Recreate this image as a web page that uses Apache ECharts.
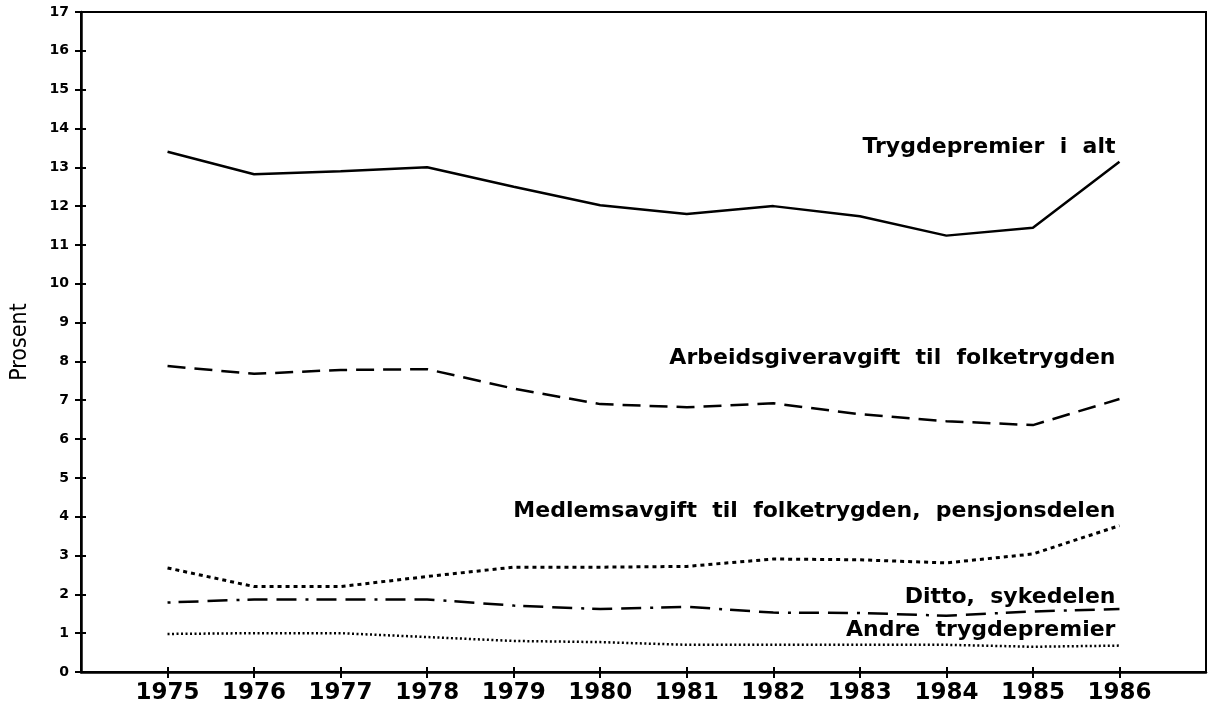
<!DOCTYPE html>
<html>
<head>
<meta charset="utf-8">
<script src="https://cdn.jsdelivr.net/npm/echarts@6/dist/echarts.min.js"></script>
<style>
html,body{margin:0;padding:0;background:#fff;}
#chart{width:1209px;height:710px;}
</style>
</head>
<body>
<div id="chart"></div>
<script>
var years = [1975, 1976, 1977, 1978, 1979, 1980, 1981, 1982, 1983, 1984, 1985, 1986];
var yTicks = [0,1,2,3,4,5,6,7,8,9,10,11,12,13,14,15,16,17];
var trygdepremierIAlt = [13.4, 12.82, 12.9, 13.0, 12.5, 12.02, 11.8, 12.0, 11.74, 11.24, 11.44, 13.14];
var arbeidsgiveravgift = [7.88, 7.68, 7.78, 7.8, 7.3, 6.9, 6.82, 6.92, 6.64, 6.46, 6.36, 7.03];
var medlemsavgiftPensjon = [2.68, 2.2, 2.2, 2.46, 2.7, 2.7, 2.72, 2.91, 2.89, 2.81, 3.04, 3.77];
var dittoSykedelen = [1.79, 1.87, 1.87, 1.87, 1.71, 1.62, 1.68, 1.53, 1.52, 1.45, 1.56, 1.62];
var andreTrygdepremier = [0.98, 1.0, 1.0, 0.9, 0.8, 0.77, 0.7, 0.7, 0.7, 0.7, 0.65, 0.68];
var seriesNames = [
  'Trygdepremier  i  alt',
  'Arbeidsgiveravgift  til  folketrygden',
  'Medlemsavgift  til  folketrygden,  pensjonsdelen',
  'Ditto,  sykedelen',
  'Andre  trygdepremier'
];

function pairs(vals){ return years.map(function(y,i){ return [y, vals[i]]; }); }

var labelFont = {fontFamily:'DejaVu Sans', fontWeight:'bold', fontSize:22, color:'#000'};
function endLab(dy){
  return Object.assign({show:true, formatter:'{a}', align:'right', verticalAlign:'middle', distance:0, offset:[-4, dy]}, labelFont);
}

var chart = echarts.init(document.getElementById('chart'), null, {renderer:'canvas'});
var xBase = {
  type:'value', min:1974, max:1987, gridIndex:0, position:'bottom',
  splitLine:{show:false}
};
var yBase = {
  type:'value', min:0, max:17, interval:1, position:'left', splitLine:{show:false}
};
chart.setOption({
  animation:false,
  backgroundColor:'#fff',
  grid:{left:81, right:3, top:12, bottom:38, show:true, borderColor:'#000', borderWidth:2,
        containLabel:false, outerBoundsMode:'none'},
  xAxis:[
    Object.assign({}, xBase, {
      axisLine:{show:true, lineStyle:{color:'#000', width:2.5}},
      axisTick:{show:true, length:6, inside:false, lineStyle:{color:'#000', width:2}, customValues:years},
      axisLabel:{show:true, customValues:years, margin:10, color:'#000', fontFamily:'DejaVu Sans', fontWeight:'bold', fontSize:23, formatter:function(v){return String(v);}}
    }),
    Object.assign({}, xBase, {
      axisLine:{show:false},
      axisTick:{show:true, length:5, inside:true, lineStyle:{color:'#000', width:2}, customValues:years},
      axisLabel:{show:false}
    })
  ],
  yAxis:[
    Object.assign({}, yBase, {
      name:'Prosent', nameLocation:'middle', nameGap:49, nameRotate:90,
      nameTextStyle:{fontFamily:"'DejaVu Sans Condensed', 'Liberation Sans', sans-serif", fontSize:23, color:'#000'},
      axisLine:{show:true, lineStyle:{color:'#000', width:2.5}},
      axisTick:{show:true, length:6, inside:false, lineStyle:{color:'#000', width:2}},
      axisLabel:{show:true, margin:12, color:'#000', fontFamily:'DejaVu Sans', fontWeight:'bold', fontSize:14}
    }),
    Object.assign({}, yBase, {
      axisLine:{show:false},
      axisTick:{show:true, length:5, inside:true, lineStyle:{color:'#000', width:2}},
      axisLabel:{show:false}
    })
  ],
  series:[
    {name:seriesNames[0], type:'line', data:pairs(trygdepremierIAlt), symbol:'none',
     lineStyle:{color:'#000', width:2.5, type:'solid'}, endLabel:endLab(-15)},
    {name:seriesNames[1], type:'line', data:pairs(arbeidsgiveravgift), symbol:'none',
     lineStyle:{color:'#000', width:2.5, type:[18,9]}, endLabel:endLab(-41)},
    {name:seriesNames[2], type:'line', data:pairs(medlemsavgiftPensjon), symbol:'none',
     lineStyle:{color:'#000', width:3, type:[4,4]}, endLabel:endLab(-14)},
    {name:seriesNames[3], type:'line', data:pairs(dittoSykedelen), symbol:'none',
     lineStyle:{color:'#000', width:2.5, type:[3,8,20,9,20,9]}, endLabel:endLab(-12)},
    {name:seriesNames[4], type:'line', data:pairs(andreTrygdepremier), symbol:'none',
     lineStyle:{color:'#000', width:2.5, type:[2,2.5]}, endLabel:endLab(-15)}
  ]
});
</script>
</body>
</html>
